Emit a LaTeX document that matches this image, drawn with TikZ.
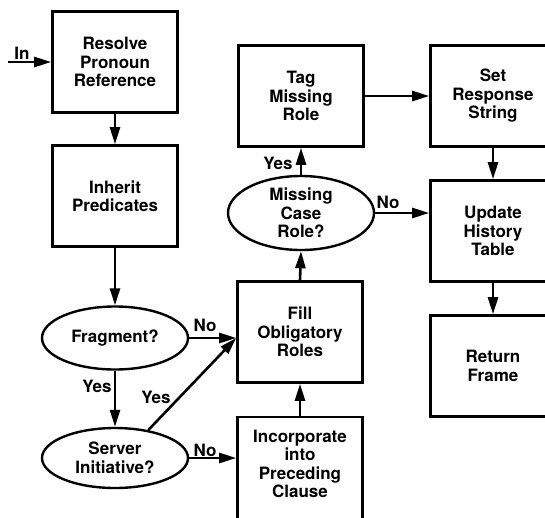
\documentclass[tikz,border=0pt]{standalone}
\usepackage{fontspec}
\setmainfont{TeX Gyre Heros}
\usetikzlibrary{shapes.geometric,arrows.meta,calc}
\tikzset{
  box/.style={draw,line width=2.6pt,minimum width=125pt,minimum height=101pt,align=center,inner sep=0pt},
  oval/.style={draw,ellipse,line width=2.4pt,align=center,inner sep=0pt},
  conn/.style={line width=2.6pt,-{Triangle[length=17pt,width=10pt]}},
  lbl/.style={inner sep=0pt},
}
\begin{document}
\begin{tikzpicture}[x=1pt,y=-1pt,font=\fontsize{17}{18.5}\selectfont\bfseries]
\useasboundingbox (0,0) rectangle (545,517);
\clip (0,0) rectangle (545,517);
\node[box] (resolve) at (115,62) {Resolve\\Pronoun\\Reference};
\node[box] (inherit) at (115,196) {Inherit\\Predicates};
\node[oval,minimum width=146pt,minimum height=63pt] (frag) at (115,338) {Fragment?};
\node[oval,minimum width=146pt,minimum height=60pt] (server) at (115,458) {Server\\Initiative?};
\node[box] (fill) at (300,332) {Fill\\Obligatory\\Roles};
\node[box,minimum height=106pt] (inc) at (300,470) {};
\node[align=center] (inctext) at (300,464) {Incorporate\\into\\Preceding\\Clause};
\node[oval,minimum width=146pt,minimum height=74pt] (miss) at (301,213) {Missing\\Case\\Role?};
\node[box] (tag) at (301,96) {Tag\\Missing\\Role};
\node[box] (set) at (493,96) {Set\\Response\\String};
\node[box] (update) at (493,231) {Update\\History\\Table};
\node[box] (ret) at (493,366) {Return\\Frame};
\coordinate (in) at (8,62);
\coordinate (fillin) at ($(fill.west)+(0,6)$);
\draw[conn] (in) -- (resolve.west);
\node[lbl] at (22,53) {In};
\draw[conn] (resolve.south) -- (inherit.north);
\draw[conn] (inherit.south) -- (frag.north);
\draw[conn] (frag.south) -- (server.north);
\node[lbl] at (97,386) {Yes};
\draw[conn] (frag.east) -- (fillin);
\node[lbl] at (205,325) {No};
\draw[conn] (server.40) -- (fillin);
\node[lbl] at (156,397) {Yes};
\draw[conn] (server.east) -- (server.east -| inc.west);
\node[lbl] at (205,450) {No};
\draw[conn] (inc.north) -- (fill.south);
\draw[conn] (fill.north) -- (miss.south);
\draw[conn] (miss.north) -- (tag.south);
\node[lbl] at (278,163) {Yes};
\draw[conn] (miss.east) -- (miss.east -| update.west);
\node[lbl] at (388,202) {No};
\draw[conn] (tag.east) -- (tag.east -| set.west);
\draw[conn] (set.south) -- (update.north);
\draw[conn] (update.south) -- (ret.north);
\end{tikzpicture}
\end{document}
